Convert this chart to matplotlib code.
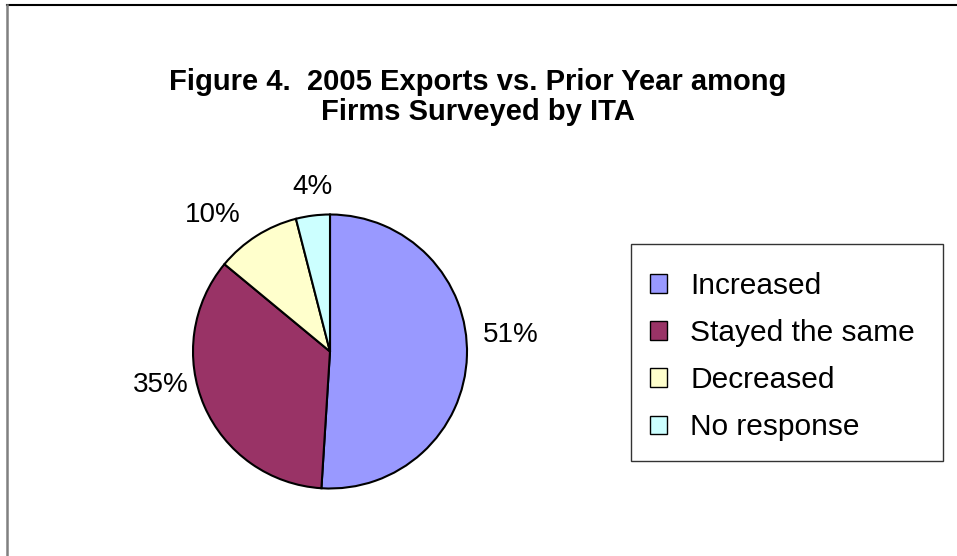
import matplotlib
matplotlib.use("Agg")
import numpy as np
import matplotlib.pyplot as plt
from matplotlib.patches import Rectangle, Patch
from matplotlib.lines import Line2D

categories = ["Increased", "Stayed the same", "Decreased", "No response"]
values = [51, 35, 10, 4]
pct_labels = ["51%", "35%", "10%", "4%"]
colors = ["#9999FF", "#993366", "#FFFFCC", "#CCFFFF"]
title = "Figure 4.  2005 Exports vs. Prior Year among\nFirms Surveyed by ITA"

plt.rcParams['font.family'] = ['Liberation Sans', 'DejaVu Sans']

W, H = 957, 556
fig = plt.figure(figsize=(W / 100, H / 100), dpi=100)
fig.patch.set_facecolor("white")

def fx(px):
    return px / W

def fy(py):
    return 1 - py / H

# outer chart-area border (only top and left visible)
fig.add_artist(Line2D([fx(7), 1.0], [fy(4.5), fy(4.5)], transform=fig.transFigure,
                      color="black", lw=1.5))
fig.add_artist(Line2D([fx(7), fx(7)], [fy(4.5), 0.0], transform=fig.transFigure,
                      color="#808080", lw=1.8))

# title
fig.text(fx(478), fy(97), title, ha="center", va="center", fontsize=21,
         fontweight="bold", linespacing=1.1)

# pie
cx, cy, r = 330, 351.5, 137
ax = fig.add_axes([fx(cx - r), fy(cy + r), 2 * r / W, 2 * r / H])
wedges, _ = ax.pie(values, colors=colors, startangle=90, counterclock=False,
                   wedgeprops=dict(edgecolor="black", linewidth=1.5))
ax.set_xlim(-1, 1)
ax.set_ylim(-1, 1)
ax.set_aspect("equal")
ax.axis("off")

# percentage labels placed just outside each wedge (Excel-like)
for w, lab in zip(wedges, pct_labels):
    ang = np.deg2rad((w.theta1 + w.theta2) / 2)
    x, y = np.cos(ang), np.sin(ang)
    if abs(x) > 0.3:
        dx, dy = 44 * np.sign(x), 21
    else:
        dx, dy = 0, 29
    ax.annotate(lab, xy=(x, y), xytext=(dx * 0.72, dy * 0.72),
                textcoords="offset points", ha="center", va="center",
                fontsize=20, annotation_clip=False)

# legend frame
fig.add_artist(Rectangle((fx(631), fy(461)), (943 - 631) / W, (461 - 244) / H,
                         transform=fig.transFigure, fill=False,
                         edgecolor="#333333", lw=1.0))
handles = [Patch(facecolor=c, edgecolor="black", linewidth=1.0) for c in colors]
fig.legend(handles, categories, loc="upper left",
           bbox_to_anchor=(fx(650), fy(272)), frameon=False, fontsize=21.5,
           borderpad=0, borderaxespad=0, labelspacing=0.64,
           handlelength=0.57, handleheight=0.57, handletextpad=0.78)

fig.savefig("out.png", dpi=100, facecolor="white")
